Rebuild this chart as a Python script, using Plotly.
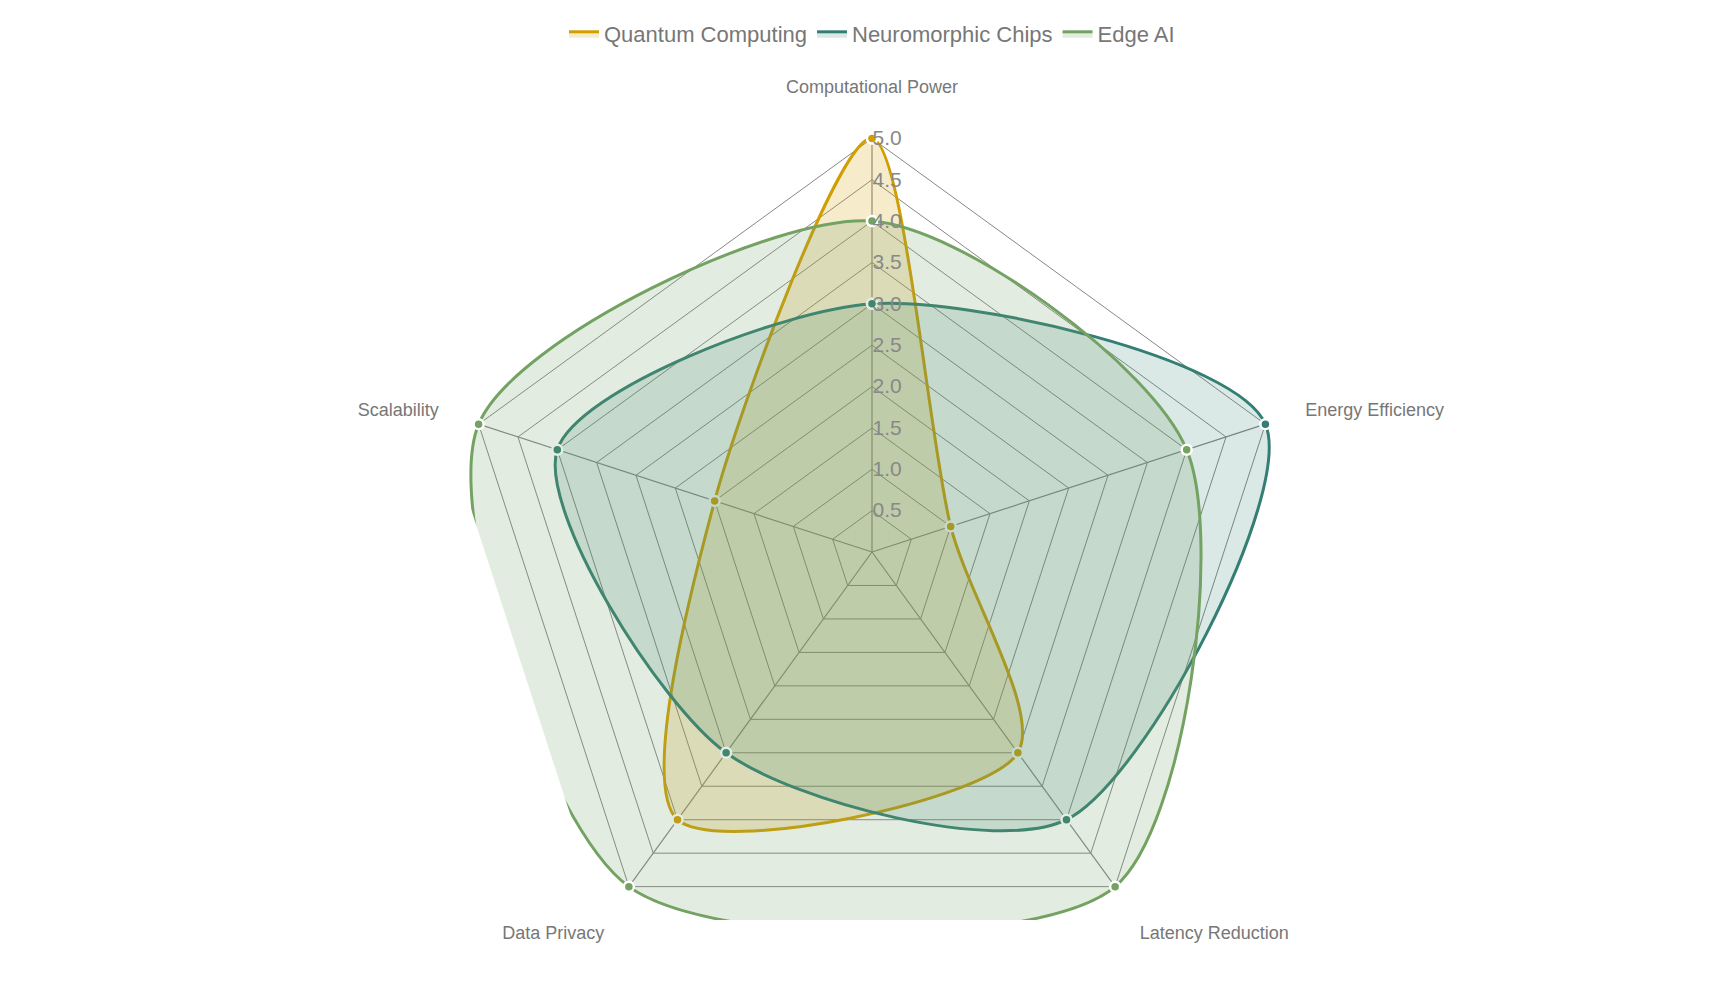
import plotly.graph_objects as go

categories = ["Computational Power", "Energy Efficiency", "Latency Reduction", "Data Privacy", "Scalability"]
quantum = [5, 1, 3, 4, 2]
neuro = [3, 5, 4, 3, 4]
edge = [4, 4, 5, 5, 5]
tick_vals = [0.5, 1.0, 1.5, 2.0, 2.5, 3.0, 3.5, 4.0, 4.5, 5.0]
r_max = 5

series = [
    ("Quantum Computing", quantum, "#D19E00", "rgba(209,158,0,0.2)"),
    ("Neuromorphic Chips", neuro, "#347F73", "rgba(52,127,115,0.18)"),
    ("Edge AI", edge, "#74A262", "rgba(116,162,98,0.2)"),
]

fig = go.Figure()
# spokes up to r_max
for c in categories:
    fig.add_trace(go.Scatterpolar(r=[0, r_max], theta=[c, c], mode="lines",
                                  line=dict(color="#888", width=1.2), showlegend=False,
                                  hoverinfo="skip"))
for name, vals, col, fill in series:
    fig.add_trace(go.Scatterpolar(
        r=vals + vals[:1], theta=categories + categories[:1], name=name,
        mode="lines+markers", fill="toself", fillcolor=fill, showlegend=False,
        line=dict(color=col, width=3, shape="spline", smoothing=0.8),
        marker=dict(color=col, size=10, line=dict(color="white", width=2.5)),
    ))
for name, vals, col, fill in series:
    fig.add_trace(go.Scatterpolar(
        r=[0, 0, 0], theta=categories[:3], name=name, mode="lines", fill="toself",
        fillcolor=fill, line=dict(color=col, width=3), hoverinfo="skip"))

fig.update_layout(
    width=1728, height=1000, paper_bgcolor="white",
    margin=dict(l=0, r=0, t=0, b=0),
    font=dict(family="Liberation Sans, Arial", color="#777"),
    legend=dict(orientation="h", x=0.5, xanchor="center", y=0.995, yanchor="top",
                font=dict(size=22, color="#777")),
    polar=dict(
        domain=dict(x=[0.2367, 0.7633], y=[0.001, 0.911]),
        bgcolor="white", gridshape="linear",
        angularaxis=dict(rotation=90, direction="clockwise", showgrid=False,
                         showline=False, ticks="",
                         tickfont=dict(size=18, color="#777")),
        radialaxis=dict(range=[0, 5.5], tickvals=tick_vals, tickformat=".1f", angle=90,
                        tickangle=90, gridcolor="#888", showline=False, ticks="",
                        tickfont=dict(size=21, color="#888")),
    ),
)
fig.write_html("out.html")
